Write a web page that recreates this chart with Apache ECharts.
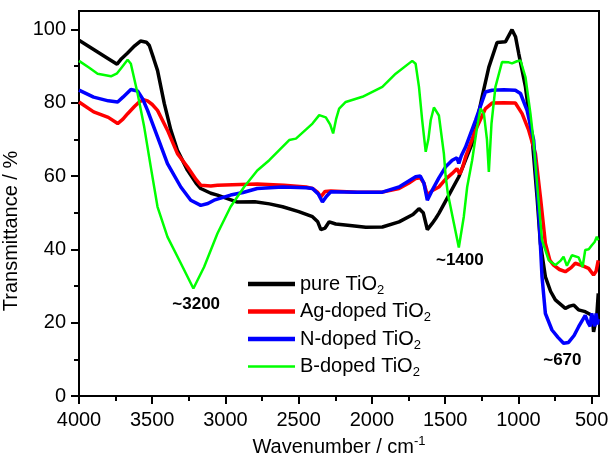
<!DOCTYPE html>
<html>
<head>
<meta charset="utf-8">
<script src="https://cdn.jsdelivr.net/npm/echarts@6/dist/echarts.min.js"></script>
<style>
  html, body { margin: 0; padding: 0; background: #fff; }
  #chart { width: 611px; height: 455px; }
</style>
</head>
<body>
<div id="chart"></div>
<script>
// tick values
const majorX = [4000, 3500, 3000, 2500, 2000, 1500, 1000, 500];
const minorX = [3750, 3250, 2750, 2250, 1750, 1250, 750];
const majorY = [0, 20, 40, 60, 80, 100];
const minorY = [10, 30, 50, 70, 90];

const seriesNames = ["pure TiO2", "Ag-doped TiO2", "N-doped TiO2", "B-doped TiO2"];

// pure TiO2 (black)
const wnPure = [4000, 3900, 3800, 3740, 3710, 3670, 3620, 3580, 3540, 3520, 3490, 3464, 3418, 3373, 3328, 3260, 3200, 3169, 3100, 3055, 2919, 2800, 2700, 2610, 2500, 2406, 2370, 2349, 2320, 2292, 2247, 2150, 2042, 1929, 1815, 1720, 1679, 1650, 1622, 1590, 1565, 1543, 1475, 1407, 1316, 1248, 1202, 1146, 1089, 1044, 1020, 998, 952, 907, 873, 850, 816, 780, 748, 680, 650, 623, 590, 544, 499, 490, 487, 475, 465, 455];
const tPure = [97, 94.5, 92, 90.5, 92, 93.5, 95.5, 96.8, 96.5, 95.6, 92, 88.8, 79.8, 72.5, 67, 61.6, 58, 56.6, 55.3, 54.8, 52.9, 53, 52.4, 51.6, 50.3, 48.9, 47.5, 45.4, 45.8, 47.5, 46.9, 46.5, 46, 46.1, 47.5, 49.5, 51.1, 50, 45.4, 47, 48.4, 49.8, 54.8, 59.8, 68.9, 81.6, 89.7, 96.4, 96.6, 99.9, 98, 93.4, 84.3, 70.7, 54.3, 41.6, 32.5, 28.5, 26.2, 23.9, 24.5, 24.8, 23.5, 23, 22, 19, 17.5, 18, 22, 28];

// Ag-doped TiO2 (red)
const wnAg = [4000, 3900, 3800, 3736, 3700, 3668, 3620, 3589, 3560, 3532, 3500, 3464, 3396, 3328, 3260, 3200, 3169, 3100, 3055, 2900, 2783, 2600, 2450, 2406, 2370, 2349, 2320, 2281, 2100, 1929, 1815, 1750, 1702, 1670, 1645, 1622, 1590, 1543, 1500, 1452, 1420, 1400, 1380, 1361, 1293, 1225, 1180, 1100, 1021, 975, 930, 884, 850, 816, 785, 760, 720, 680, 640, 612, 560, 521, 487, 470, 455];
const tAg = [80.2, 77.5, 76, 74.3, 75.5, 77, 79, 80.2, 80.8, 80.5, 79.5, 77.9, 72.5, 66.1, 62.5, 59, 57.5, 57.3, 57.5, 57.7, 57.8, 57.5, 57, 56.6, 55.5, 54.3, 55.8, 55.9, 55.6, 55.6, 56.6, 58, 59.3, 59.5, 58, 54.8, 56, 57, 59, 60.7, 62, 60.5, 62.5, 65.2, 72.5, 78.4, 79.9, 80, 79.9, 77, 72.5, 66.1, 54.3, 41.6, 37, 35.7, 34.5, 33.9, 35, 36.2, 35.5, 34.8, 33, 34, 37];

// N-doped TiO2 (blue)
const wnN = [4000, 3900, 3800, 3736, 3700, 3646, 3600, 3565, 3532, 3464, 3396, 3305, 3237, 3169, 3120, 3078, 2965, 2880, 2783, 2610, 2450, 2406, 2365, 2338, 2310, 2281, 2100, 1929, 1815, 1702, 1670, 1645, 1622, 1590, 1543, 1497, 1452, 1420, 1407, 1390, 1361, 1293, 1225, 1180, 1100, 1021, 986, 941, 896, 862, 839, 816, 771, 730, 692, 658, 620, 589, 544, 525, 510, 500, 490, 480, 470, 460, 455];
const tN = [83.4, 81.5, 80.5, 80.2, 81.5, 83.6, 83.2, 81, 77.9, 70.7, 63.4, 57, 53.4, 52, 52.5, 53.4, 54.8, 55.5, 56.6, 57, 56.8, 56.6, 55, 52.9, 54.5, 55.7, 55.6, 55.6, 57, 59.8, 60, 58, 53.4, 56, 59.5, 62.5, 64.3, 65, 63.4, 65.5, 67.9, 75.2, 82.9, 83.4, 83.5, 83.4, 82.5, 77.9, 69.8, 50.7, 32.5, 22.5, 18, 16, 14.4, 14.6, 16.5, 18.9, 22, 20, 19, 22.5, 22, 19, 22.5, 19.5, 21];

// B-doped TiO2 (green)
const wnB = [4000, 3930, 3873, 3782, 3740, 3714, 3668, 3646, 3600, 3555, 3510, 3464, 3396, 3305, 3219, 3146, 3055, 2965, 2873, 2783, 2701, 2565, 2519, 2406, 2360, 2315, 2285, 2265, 2245, 2224, 2179, 2065, 1929, 1838, 1725, 1702, 1679, 1657, 1633, 1615, 1599, 1577, 1543, 1509, 1497, 1482, 1440, 1407, 1373, 1350, 1316, 1282, 1259, 1236, 1215, 1202, 1184, 1157, 1112, 1066, 1044, 1010, 986, 952, 918, 896, 873, 839, 793, 748, 710, 692, 669, 635, 589, 562, 544, 520, 499, 480, 465, 455];
const tB = [91.4, 89.5, 87.9, 87.2, 88, 89.3, 91.7, 90.6, 82.5, 73.4, 62.5, 51.6, 43.4, 36.2, 29.3, 35.2, 44.3, 51.6, 57, 61.5, 64.3, 69.8, 70.2, 74.3, 76.6, 76, 74, 71.6, 75.5, 78.4, 80.2, 81.6, 84.3, 87.9, 91.4, 90.6, 84.3, 75.2, 66.6, 70, 75.2, 78.7, 76.5, 66.1, 60, 55.2, 47, 40.5, 48.9, 57, 64.3, 73.4, 78.4, 77, 70, 61.1, 74.3, 84.3, 91.1, 91, 90.7, 91.3, 91.5, 87, 77, 69.3, 58, 42.5, 37, 35.7, 37, 38, 35.5, 38.4, 37.8, 35.2, 39.8, 40, 41.1, 42, 43.4, 42.5];

// peak annotations
const annoText = ["~3200", "~1400", "~670"];
const annoWn = [3200, 1400, 700];
const annoT = [25, 37, 9.8];

const colors = ["#000000", "#ff0000", "#0000ff", "#00ff00"];
const widths = [3.5, 3.5, 3.5, 2.5];
const legendIcons = [
  "path://M0,0L47,0L47,4.5L0,4.5Z",
  "path://M0,0L47,0L47,4.5L0,4.5Z",
  "path://M0,0L47,0L47,4.5L0,4.5Z",
  "path://M0,0L47,0L47,2.7L0,2.7Z",
];
const allWn = [wnPure, wnAg, wnN, wnB];
const allT = [tPure, tAg, tN, tB];

const font = "Liberation Sans, Arial, sans-serif";

const chart = echarts.init(document.getElementById("chart"));

const lineSeries = seriesNames.map((name, k) => ({
  name: name,
  type: "line",
  data: allWn[k].map((w, i) => [w, allT[k][i]]),
  symbol: "none",
  smooth: false,
  color: colors[k],
  lineStyle: { color: colors[k], width: widths[k] },
  z: 2 + k,
}));

const option = {
  animation: false,
  backgroundColor: "#fff",
  grid: {
    left: 79,
    right: 12,
    top: 11,
    bottom: 59,
    containLabel: false,
    outerBoundsMode: "none",
    show: true,
    borderColor: "#000",
    borderWidth: 2,
  },
  legend: {
    data: seriesNames.map((n, k) => ({ name: n, icon: legendIcons[k], itemStyle: { color: colors[k] } })),
    orient: "vertical",
    left: 243,
    top: 269,
    itemWidth: 47,
    itemHeight: 14,
    itemGap: 5,
    selectedMode: false,
    formatter: (name) => name.replace("TiO2", "TiO{sub|2}"),
    textStyle: {
      fontFamily: font,
      fontSize: 20,
      color: "#000",
      rich: {
        sub: { fontFamily: font, fontSize: 13, color: "#000", padding: [12, 0, 0, 0] },
      },
    },
  },
  xAxis: [
    {
      type: "value",
      inverse: true,
      min: 450,
      max: 4000,
      position: "bottom",
      name: "Wavenumber / cm{sup|-1}",
      nameLocation: "middle",
      nameGap: 21,
      nameTextStyle: {
        fontFamily: font,
        fontSize: 20,
        color: "#000",
        rich: {
          sup: { fontFamily: font, fontSize: 13, color: "#000", padding: [0, 0, 12, 0] },
        },
      },
      axisLine: { lineStyle: { color: "#000", width: 2 } },
      axisTick: { customValues: majorX, length: 8, lineStyle: { color: "#000", width: 2 } },
      axisLabel: {
        customValues: majorX,
        formatter: (v) => String(v),
        fontFamily: font,
        fontSize: 20,
        color: "#000",
        margin: 14,
      },
      splitLine: { show: false },
    },
    {
      type: "value",
      inverse: true,
      min: 450,
      max: 4000,
      position: "bottom",
      axisLine: { show: false },
      axisTick: { customValues: minorX, length: 5, lineStyle: { color: "#000", width: 2 } },
      axisLabel: { show: false },
      splitLine: { show: false },
    },
  ],
  yAxis: [
    {
      type: "value",
      min: 0,
      max: 105,
      position: "left",
      name: "Transmittance / %",
      nameLocation: "middle",
      nameGap: 44,
      nameTextStyle: { fontFamily: font, fontSize: 20, color: "#000", padding: [0, 55, 0, 0] },
      axisLine: { lineStyle: { color: "#000", width: 2 } },
      axisTick: { customValues: majorY, length: 8, lineStyle: { color: "#000", width: 2 } },
      axisLabel: {
        customValues: majorY,
        formatter: (v) => String(v),
        fontFamily: font,
        fontSize: 20,
        color: "#000",
        margin: 13,
      },
      splitLine: { show: false },
    },
    {
      type: "value",
      min: 0,
      max: 105,
      position: "left",
      axisLine: { show: false },
      axisTick: { customValues: minorY, length: 5, lineStyle: { color: "#000", width: 2 } },
      axisLabel: { show: false },
      splitLine: { show: false },
    },
  ],
  series: [
    ...lineSeries,
    {
      name: "annotations",
      type: "scatter",
      silent: true,
      symbolSize: 0,
      itemStyle: { color: "rgba(0,0,0,0)" },
      data: annoWn.map((w, i) => ({ value: [w, annoT[i]], name: annoText[i] })),
      label: {
        show: true,
        position: "inside",
        formatter: (p) => p.name,
        fontFamily: font,
        fontSize: 17,
        fontWeight: "bold",
        color: "#000",
        opacity: 1,
        textBorderWidth: 0,
      },
      z: 10,
    },
  ],
};

chart.setOption(option);
</script>
</body>
</html>
